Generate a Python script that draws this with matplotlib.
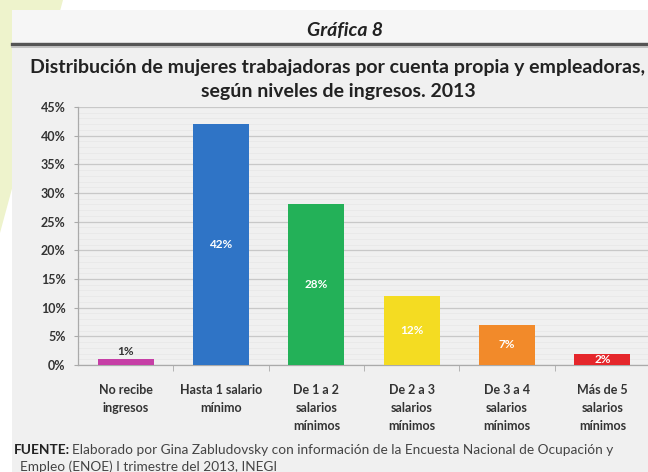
import matplotlib
matplotlib.use('Agg')
import matplotlib.pyplot as plt
from matplotlib.patches import Polygon, Rectangle
from matplotlib.lines import Line2D
from matplotlib.ticker import MultipleLocator, FuncFormatter

plt.rcParams['font.family'] = ['Lato', 'DejaVu Sans']

# ── Data ──────────────────────────────────────────────────────────────────────
categorias = ['No recibe\ningresos', 'Hasta 1 salario\nmínimo',
              'De 1 a 2\nsalarios\nmínimos', 'De 2 a 3\nsalarios\nmínimos',
              'De 3 a 4\nsalarios\nmínimos', 'Más de 5\nsalarios\nmínimos']
porcentajes = [1, 42, 28, 12, 7, 2]
colores = ['#c63fa6', '#2f74c6', '#23b158', '#f4dc22', '#f28a2a', '#e5262b']

TEXT = '#333333'
PANEL = '#f0f0f0'
FS_TICK = 9

fig = plt.figure(figsize=(6.48, 4.72), dpi=100)
fig.patch.set_facecolor('white')

# background: pale green wedge at the top-left and the grey panel
fig.patches.append(Polygon([(0, 1), (63 / 648, 1), (0, 1 - 233 / 472)],
                           closed=True, transform=fig.transFigure,
                           facecolor='#eef3cc', edgecolor='none', zorder=-3))
fig.patches.append(Rectangle((12 / 648, 0), 1, 1 - 10 / 472,
                             transform=fig.transFigure,
                             facecolor=PANEL, edgecolor='none', zorder=-2))
fig.patches.append(Rectangle((12 / 648, 1 - 42 / 472), 1, 32 / 472,
                             transform=fig.transFigure,
                             facecolor='#f6f6f6', edgecolor='none', zorder=-2))
fig.lines.append(Line2D([12 / 648, 1], [1 - 44 / 472] * 2,
                        transform=fig.transFigure, color='#555555', lw=2.4,
                        zorder=-1))
fig.lines.append(Line2D([12 / 648, 1], [1 - 46.5 / 472] * 2,
                        transform=fig.transFigure, color='#bbbbbb', lw=1.2,
                        zorder=-1))

fig.text(345 / 648, 1 - 30 / 472, 'Gráfica 8', ha='center', va='center',
         fontsize=14, fontweight='bold', style='italic', color='#222222')
fig.text(338 / 648, 1 - 68 / 472,
         'Distribución de mujeres trabajadoras por cuenta propia y empleadoras,',
         ha='center', va='center', fontsize=14, fontweight='bold', color='#222222')
fig.text(338 / 648, 1 - 92 / 472, 'según niveles de ingresos. 2013',
         ha='center', va='center', fontsize=14, fontweight='bold', color='#222222')

# ── Bars ──────────────────────────────────────────────────────────────────────
ax = fig.add_axes([78 / 648, 1 - 365 / 472, 572 / 648, 258 / 472])
ax.set_zorder(1)
ax.set_facecolor(PANEL)
x = list(range(len(categorias)))
bars = ax.bar(x, porcentajes, width=0.59, color=colores, zorder=3)

for b, v in zip(bars, porcentajes):
    cx = b.get_x() + b.get_width() / 2
    if v < 2:
        ax.text(cx, v + 0.4, f'{v}%', ha='center', va='bottom',
                fontsize=8.5, fontweight='bold', color=TEXT, zorder=4)
    else:
        ax.text(cx, v / 2, f'{v}%', ha='center', va='center',
                fontsize=8.5, fontweight='bold', color='white', zorder=4)

ax.set_xlim(-0.5, len(categorias) - 0.5)
ax.set_ylim(0, 45)
ax.yaxis.set_major_locator(MultipleLocator(5))
ax.yaxis.set_minor_locator(MultipleLocator(1))
ax.yaxis.set_major_formatter(FuncFormatter(lambda v, _: f'{v:.0f}%'))
ax.grid(axis='y', which='major', color='#c8c8c8', lw=0.9, zorder=1)
ax.grid(axis='y', which='minor', color='#e6e6e6', lw=0.5, zorder=1)

ax.set_xticks(x)
ax.set_xticklabels(categorias, fontsize=FS_TICK, fontweight='bold', color=TEXT,
                   linespacing=1.6)
ax.set_xticks([i + 0.5 for i in x[:-1]], minor=True)
ax.tick_params(axis='x', which='major', length=0, pad=14)
ax.tick_params(axis='x', which='minor', length=4, color='#aaaaaa')
ax.tick_params(axis='y', which='major', length=3, color='#aaaaaa',
               labelsize=FS_TICK, labelcolor=TEXT, pad=6)
ax.tick_params(axis='y', which='minor', length=0)
for lbl in ax.get_yticklabels():
    lbl.set_fontweight('bold')

for s in ['top', 'right']:
    ax.spines[s].set_visible(False)
for s in ['left', 'bottom']:
    ax.spines[s].set_color('#aaaaaa')
    ax.spines[s].set_linewidth(0.9)

# ── Source note ──────────────────────────────────────────────────────────────
t = fig.text(14 / 648, 1 - 450 / 472, 'FUENTE:', ha='left', va='center',
             fontsize=9.8, fontweight='bold', color='#222222')
fig.canvas.draw()
bb = t.get_window_extent()
fig.text(bb.x1 / fig.bbox.width + 2 / 648, 1 - 450 / 472,
         'Elaborado por Gina Zabludovsky con información de la Encuesta Nacional de Ocupación y',
         ha='left', va='center', fontsize=9.8, color='#444444')
fig.text(20 / 648, 1 - 467 / 472,
         'Empleo (ENOE) I trimestre del 2013, INEGI',
         ha='left', va='center', fontsize=9.8, color='#444444')

fig.savefig('out.png', dpi=100, facecolor=fig.get_facecolor())
